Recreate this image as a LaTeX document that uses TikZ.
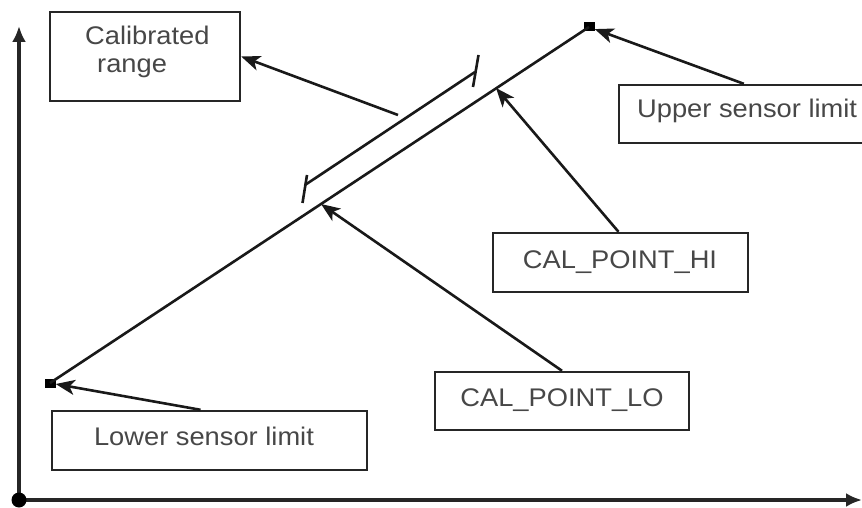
\documentclass[tikz,border=0pt]{standalone}
\usepackage{fontspec}
\setmainfont{Liberation Sans}[FakeStretch=1.07]
\usetikzlibrary{arrows.meta,calc}
\begin{document}
\begin{tikzpicture}[x=1pt,y=-1pt,
  box/.style={draw=black!85,line width=2.4pt,rectangle,inner sep=0pt},
  txt/.style={text=black!72,inner sep=0pt,font=\fontsize{25.5}{27}\selectfont},
  ln/.style={line width=2.6pt,black!90},
  arr/.style={line width=2.6pt,black!90,-{Stealth[length=19pt,width=15pt,inset=5pt]}},
  axis/.style={line width=3.4pt,black!85,-{Latex[length=16pt,width=14pt]}},
  sq/.style={fill=black,rectangle,minimum width=11pt,minimum height=9pt,inner sep=0pt}]
\clip (0,0) rectangle (862,508);
% axes
\coordinate (org) at (19,500);
\coordinate (ytop) at (19,26);
\coordinate (xend) at (862,500);
\draw[axis] (org) -- (ytop);
\draw[axis] (org) -- (xend);
\node[fill=black,circle,minimum size=15pt,inner sep=0pt] (odot) at (org) {};
% boxes
\node[box,minimum width=190pt,minimum height=89pt] (calbox) at (145,56.5) {};
\node[txt,anchor=base west] (caltxt1) at (85,45) {Calibrated};
\node[txt,anchor=base west] (caltxt2) at (97,73) {range};
\node[box,minimum width=260pt,minimum height=58pt] (ubox) at (749,114) {};
\node[txt,anchor=base west] (utxt) at (637,118) {Upper sensor limit};
\node[box,minimum width=255pt,minimum height=59pt] (hibox) at (620.5,262.5) {};
\node[txt] (hitxt) at (620,262) {CAL\_POINT\_HI};
\node[box,minimum width=254pt,minimum height=58pt] (lobox) at (562,401) {};
\node[txt] (lotxt) at (562,400) {CAL\_POINT\_LO};
\node[box,minimum width=315pt,minimum height=59pt] (lowbox) at (209.5,440.5) {};
\node[txt] (lowtxt) at (204,436) {Lower sensor limit};
% main line
\node[sq] (losq) at (50,383) {};
\node[sq] (hisq) at (589,27) {};
\draw[ln] (losq.center) -- (hisq.center);
\coordinate (cplo) at (321,204);
\coordinate (cphi) at (496,88);
% bracket
\coordinate (b1) at (305,185);
\coordinate (b2) at (475,72);
\draw[ln] (b1) -- (b2);
\draw[ln] ([shift={(-2.5,18)}]b1) -- ([shift={(2,-10)}]b1);
\draw[ln] ([shift={(-2,15)}]b2) -- ([shift={(3.5,-17)}]b2);
\coordinate (cr) at (398,115);
% arrows
\draw[arr] (cr) -- (calbox.east);
\draw[arr] ($(ubox.north west)+(126,0)$) -- (hisq);
\draw[arr] ($(hibox.north)+(-2,0)$) -- (cphi);
\draw[arr] (lobox.north) -- (cplo);
\draw[arr] ($(lowbox.north)+(-9,0)$) -- (losq);
\end{tikzpicture}
\end{document}
